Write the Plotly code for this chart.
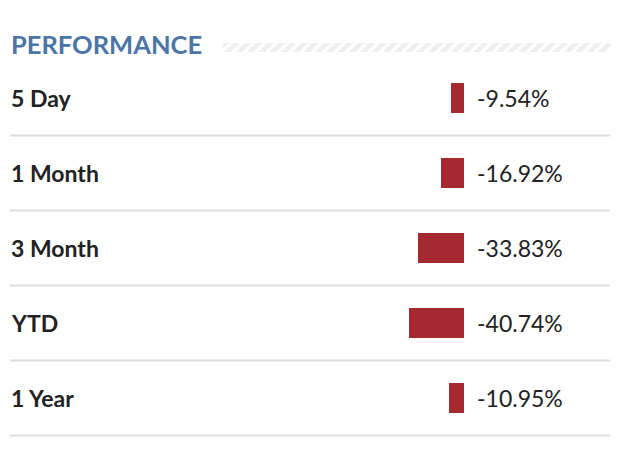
import plotly.graph_objects as go

categories = ["5 Day", "1 Month", "3 Month", "YTD", "1 Year"]
values = [-9.54, -16.92, -33.83, -40.74, -10.95]
value_labels = ["-9.54%", "-16.92%", "-33.83%", "-40.74%", "-10.95%"]
title_text = "PERFORMANCE"

W, H = 620, 470
BAR_COLOR = "#a52a30"
TEXT_COLOR = "#222222"
TITLE_COLOR = "#4a75a6"
SEP_COLOR = "#dedede"

zero_px = 464.0
px_per_unit = 1.35
x_range = [-zero_px / px_per_unit, (W - zero_px) / px_per_unit]

row0_px = 98.0
row_step = 75.0
y_range = [(H - row0_px) / row_step, -row0_px / row_step]

idx = list(range(len(categories)))

fig = go.Figure()
fig.add_trace(go.Bar(
    x=values, y=idx, orientation="h", width=0.4,
    marker=dict(color=BAR_COLOR, line=dict(width=0)),
    hoverinfo="skip", showlegend=False,
))

# hatched header band
fig.add_trace(go.Bar(
    x=[0.5], y=[0.5], width=[1.0], xaxis="x2", yaxis="y2",
    marker=dict(color="white", line=dict(width=0),
                pattern=dict(shape="/", fgcolor="#e0e0e0", bgcolor="white",
                             size=8, solidity=0.6)),
    hoverinfo="skip", showlegend=False,
))

annotations = []
for i, (c, v, lab) in enumerate(zip(categories, values, value_labels)):
    annotations.append(dict(
        x=9 / W, xref="paper", y=i, yref="y", text=c, showarrow=False,
        xanchor="left", yanchor="middle",
        font=dict(family="Lato", size=23, color=TEXT_COLOR, weight="bold"),
    ))
    annotations.append(dict(
        x=0, xref="x", y=i, yref="y", text=lab, showarrow=False,
        xanchor="left", yanchor="middle", xshift=11,
        font=dict(family="Lato", size=23, color=TEXT_COLOR),
    ))
annotations.append(dict(
    x=9 / W, xref="paper", y=1 - 44 / H, yref="paper", text=title_text,
    showarrow=False, xanchor="left", yanchor="middle",
    font=dict(family="Lato", size=25.5, color=TITLE_COLOR, weight="bold"),
))

shapes = []
for i in idx:
    shapes.append(dict(
        type="line", xref="paper", yref="y", x0=10 / W, x1=610 / W,
        y0=i + 0.5, y1=i + 0.5, line=dict(color=SEP_COLOR, width=2),
    ))

fig.update_layout(
    width=W, height=H, margin=dict(l=0, r=0, t=0, b=0),
    paper_bgcolor="white", plot_bgcolor="white",
    xaxis=dict(range=x_range, domain=[0, 1], visible=False, fixedrange=True),
    yaxis=dict(range=y_range, domain=[0, 1], visible=False, fixedrange=True),
    xaxis2=dict(range=[0, 1], domain=[223 / W, 611 / W], visible=False,
                anchor="y2", fixedrange=True),
    yaxis2=dict(range=[0, 1], domain=[1 - 52 / H, 1 - 34 / H], visible=False,
                anchor="x2", fixedrange=True),
    annotations=annotations, shapes=shapes, bargap=0,
)

fig.write_html("out.html", config={"displayModeBar": False},
               post_script="document.body.style.margin='0';document.body.style.padding='0';")
